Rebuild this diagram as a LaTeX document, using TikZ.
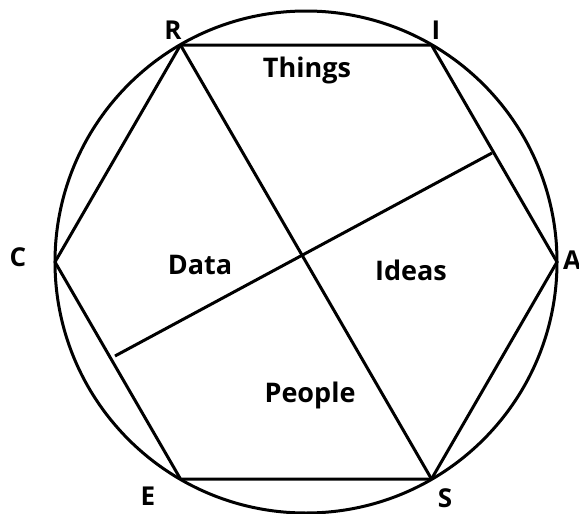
\documentclass[tikz,border=0pt]{standalone}
\usepackage{fontspec}
\setmainfont{Open Sans}
\begin{document}
\begin{tikzpicture}[x=1pt,y=-1pt,
  edge/.style={line width=3pt, line join=round},
  lbl/.style={font=\bfseries\fontsize{26}{26}\selectfont, inner sep=0pt},
  area/.style={font=\bfseries\fontsize{27}{27}\selectfont, inner sep=0pt}]
\useasboundingbox (0,0) rectangle (579,514);
\coordinate (O) at (306,262);
\coordinate (R) at (180.5,45);
\coordinate (I) at (431.5,45);
\coordinate (A) at (557,262);
\coordinate (S) at (431.5,479);
\coordinate (E) at (180.5,479);
\coordinate (C) at (55,262);
\coordinate (P1) at (115,356);
\coordinate (P2) at (492,153);
\draw[edge] (O) circle[radius=251];
\draw[edge] (R) -- (I) -- (A) -- (S) -- (E) -- (C) -- cycle;
\draw[edge] (R) -- (S);
\draw[edge] (P1) -- (P2);
\node[lbl] (lR) at (173,30) {R};
\node[lbl] (lI) at (436,30) {I};
\node[lbl] (lC) at (18,257) {C};
\node[lbl, anchor=west] (lA) at (563,260) {A};
\node[lbl] (lE) at (148,496) {E};
\node[lbl] (lS) at (445,498) {S};
\node[area] (things) at (307,70) {Things};
\node[area] (data) at (200,265) {Data};
\node[area] (ideas) at (411,270) {Ideas};
\node[area] (people) at (310,395) {People};
\end{tikzpicture}
\end{document}
